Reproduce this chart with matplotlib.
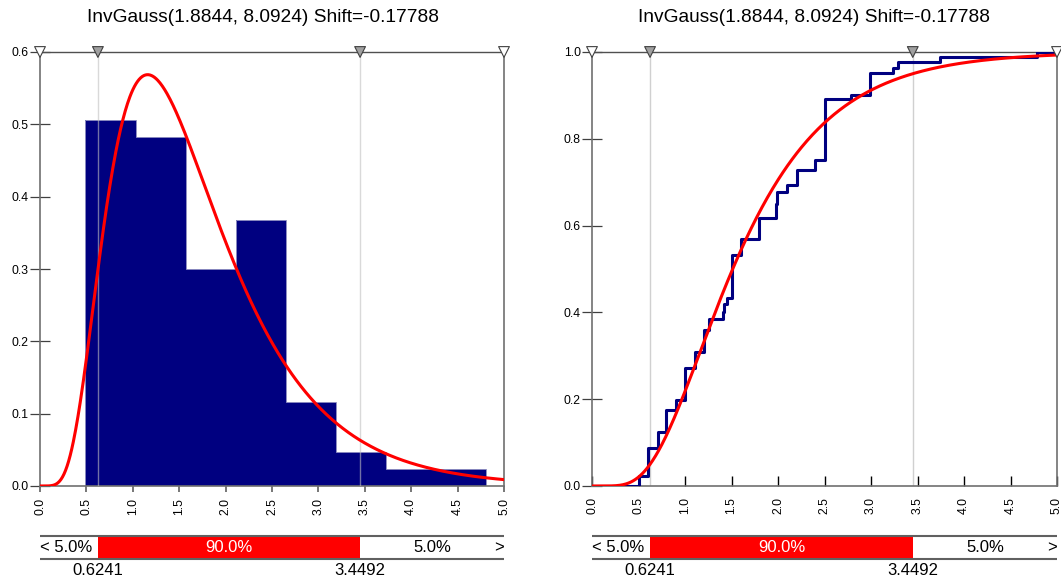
import math
import numpy as np
import matplotlib.pyplot as plt

plt.rcParams['font.family'] = ['Liberation Sans', 'DejaVu Sans']

# fitted distribution shown in the titles
mu = 1.8844
lam = 8.0924
shift = -0.17788
title = "InvGauss(1.8844, 8.0924) Shift=-0.17788"

# 5% / 95% marks and the band labels
p_low = 0.6241
p_high = 3.4492
band_labels = ["< 5.0%", "90.0%", "5.0%", ">"]

# histogram (density scale)
bin_edges = [0.49, 1.03, 1.57, 2.11, 2.65, 3.19, 3.73, 4.27, 4.81]
densities = [0.506, 0.483, 0.300, 0.368, 0.116, 0.047, 0.024, 0.024]

# empirical cdf, value after each step
ecdf_x = [0.0, 0.50, 0.605, 0.705, 0.80, 0.90, 1.005, 1.105, 1.20, 1.255, 1.405,
          1.42, 1.45, 1.50, 1.60, 1.80, 1.975, 1.99, 2.095, 2.20, 2.40, 2.50,
          2.785, 2.99, 3.24, 3.285, 3.74, 4.78, 5.0]
ecdf_y = [0.0, 0.023, 0.087, 0.125, 0.174, 0.199, 0.273, 0.309, 0.359, 0.384, 0.40,
          0.42, 0.434, 0.532, 0.568, 0.617, 0.65, 0.678, 0.694, 0.728, 0.751, 0.891,
          0.901, 0.951, 0.964, 0.976, 0.988, 1.0, 1.0]

x_ticks = np.arange(0, 5.01, 0.5)


def ig_pdf(x):
    t = x - shift
    return np.sqrt(lam / (2 * np.pi * t ** 3)) * np.exp(-lam * (t - mu) ** 2 / (2 * mu ** 2 * t))


def ig_cdf(x):
    t = x - shift
    phi = np.vectorize(lambda z: 0.5 * (1 + math.erf(z / math.sqrt(2))))
    a = np.sqrt(lam / t)
    return phi(a * (t / mu - 1)) + math.exp(2 * lam / mu) * phi(-a * (t / mu + 1))


def style_axes(ax, ymax, yticks, xtick_dir):
    ax.set_xlim(0, 5)
    ax.set_ylim(0, ymax)
    ax.set_xticks(x_ticks)
    ax.set_xticklabels(["%.1f" % v for v in x_ticks], rotation=90)
    ax.set_yticks(yticks)
    ax.set_yticklabels(["%.1f" % v for v in yticks])
    for side in ["left", "bottom", "right"]:
        ax.spines[side].set_color("#707070")
        ax.spines[side].set_linewidth(1.2)
    ax.spines["top"].set_color("#505050")
    ax.spines["top"].set_linewidth(1.0)
    ax.tick_params(axis="y", direction="inout", length=14, width=0.9,
                   color="#404040", labelsize=8.8, pad=1)
    if xtick_dir == "out":
        ax.tick_params(axis="x", direction="out", length=4, width=1.2,
                       color="#606060", labelsize=8.8, pad=4.5)
    else:
        ax.tick_params(axis="x", direction="in", length=7, width=1.0,
                       color="#000000", labelsize=8.8, pad=8)
    # percentile lines and the triangles on the top edge
    face = ["white", "#a0a0a0", "#a0a0a0", "white"]
    ax.scatter([0, p_low, p_high, 5], [ymax] * 4, marker="v", s=60, c=face,
               edgecolors="#404040", linewidths=0.8, clip_on=False, zorder=6)


def band(ax):
    ax.set_xlim(0, 5)
    ax.set_ylim(0, 1)
    ax.axis("off")
    ax.axvspan(p_low, p_high, color="#ff0000", lw=0)
    ax.hlines([0, 1], 0, 5, color="#606060", lw=1.5, clip_on=False)
    ax.text(0, 0.5, band_labels[0], ha="left", va="center", fontsize=12)
    ax.text((p_low + p_high) / 2, 0.5, band_labels[1], ha="center", va="center",
            fontsize=12, color="white")
    ax.text((p_high + 5) / 2, 0.5, band_labels[2], ha="center", va="center", fontsize=12)
    ax.text(5, 0.5, band_labels[3], ha="right", va="center", fontsize=12)
    ax.text(p_low, -0.5, "%.4f" % p_low, ha="center", va="center", fontsize=12)
    ax.text(p_high, -0.5, "%.4f" % p_high, ha="center", va="center", fontsize=12)


fig = plt.figure(figsize=(10.61, 5.82), dpi=100)
W, H = 1061, 582

xs = np.linspace(0, 5, 600)

# left: histogram + pdf
ax1 = fig.add_axes([40 / W, 96 / H, 464 / W, 434 / H])
ax1.stairs(densities, bin_edges, fill=True, color="#000080", zorder=2)
ax1.stairs(densities, bin_edges, color="#8c8cc0", lw=0.7, zorder=2.1)
for p in [p_low, p_high]:
    ax1.axvline(p, color="#c0c0c0", lw=1.0, alpha=0.6, zorder=3)
ax1.plot(xs, ig_pdf(xs), color="#ff0000", lw=2.2, zorder=4)
style_axes(ax1, 0.6, np.arange(0, 0.61, 0.1), "out")

# right: ecdf + cdf
ax2 = fig.add_axes([592 / W, 96 / H, 465 / W, 434 / H])
for p in [p_low, p_high]:
    ax2.axvline(p, color="#d0d0d0", lw=1.0, zorder=1)
ax2.plot(ecdf_x, ecdf_y, drawstyle="steps-post", color="#000080", lw=2.2, zorder=3)
ax2.plot(xs, ig_cdf(xs), color="#ff0000", lw=2.2, zorder=4)
style_axes(ax2, 1.0, np.arange(0, 1.01, 0.2), "in")

fig.text(263 / W, 1 - 18 / H, title, ha="center", va="center", fontsize=13.8)
fig.text(813.5 / W, 1 - 18 / H, title, ha="center", va="center", fontsize=13.8)

band(fig.add_axes([40 / W, 23 / H, 464 / W, 23 / H]))
band(fig.add_axes([592 / W, 23 / H, 465 / W, 23 / H]))

fig.savefig("out.png", dpi=100)
